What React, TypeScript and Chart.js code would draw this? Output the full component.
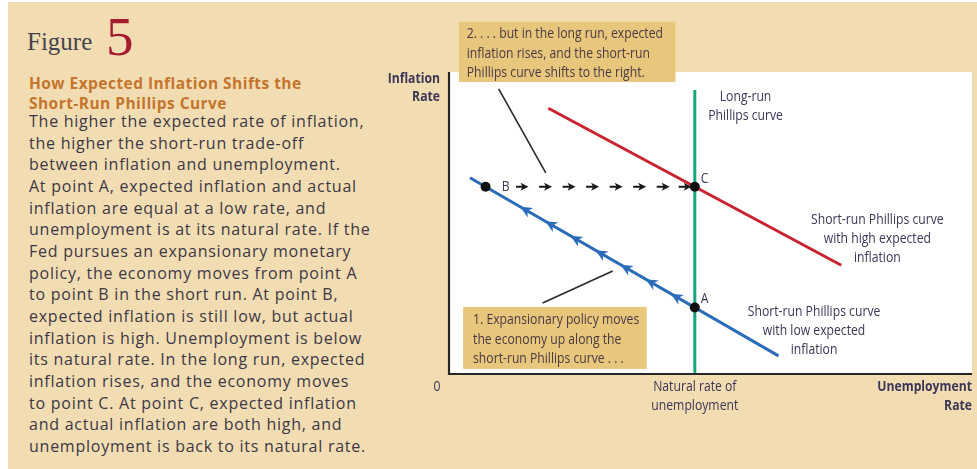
import React, { useEffect, useRef } from "react";
import { Chart, registerables } from "chart.js";

Chart.register(...registerables);

// Curves on a 0–100 unemployment / inflation grid
const lowCurveX = [4, 63];
const lowCurveY = [65, 6];
const highCurveX = [19, 75];
const highCurveY = [88, 36];
const naturalRate = 47;
const longRunY = [0, 94];

// Equilibrium points
const pointNames = ["A", "B", "C"];
const pointX = [47, 7, 47];
const pointY = [22, 62, 62];

// Arrowheads riding up the low-expectation curve (A -> B)
const upArrowX = [13.6, 18.4, 23.2, 28, 32.8, 37.6, 42.4];
// Arrow tips along the shift from B to C
const shiftStartX = 12.8;
const shiftArrowTipX = [15.2, 19.7, 24.2, 28.7, 33.2, 37.7, 42.2, 46.4];

const bodyLines = [
  "The higher the expected rate of inflation,",
  "the higher the short-run trade-off",
  "between inflation and unemployment.",
  "At point A, expected inflation and actual",
  "inflation are equal at a low rate, and",
  "unemployment is at its natural rate. If the",
  "Fed pursues an expansionary monetary",
  "policy, the economy moves from point A",
  "to point B in the short run. At point B,",
  "expected inflation is still low, but actual",
  "inflation is high. Unemployment is below",
  "its natural rate. In the long run, expected",
  "inflation rises, and the economy moves",
  "to point C. At point C, expected inflation",
  "and actual inflation are both high, and",
  "unemployment is back to its natural rate.",
];

const FONT = '"Open Sans", "Noto Sans", sans-serif';
const SQUEEZE = 0.84;
const LABEL = "#3b3656";
const BOX = "#e8c67c";

const BLUE = "#2b6cb9";
const RED = "#c9232f";
const GREEN = "#17a57c";

type Txt = { x: number; y: number; lines: string[]; align: CanvasTextAlign };

const curveLabels: Txt[] = [
  { x: 56.7, y: 91.7, lines: ["Long-run", "Phillips curve"], align: "center" },
  { x: 81.9, y: 51, lines: ["Short-run Phillips curve", "with high expected", "inflation"], align: "center" },
  { x: 69.8, y: 20.5, lines: ["Short-run Phillips curve", "with low expected", "inflation"], align: "center" },
];

const boxes = [
  {
    x0: 1.9, x1: 43.3, y0: 116.6, y1: 96.7, tx: 3.4, ty: 112.6,
    lines: ["2. . . . but in the long run, expected", "inflation rises, and the short-run", "Phillips curve shifts to the right."],
  },
  {
    x0: 2.7, x1: 37.8, y0: 22.2, y1: 1.7, tx: 4.6, ty: 17.9,
    lines: ["1. Expansionary policy moves", "the economy up along the", "short-run Phillips curve . . ."],
  },
];

// Leader lines from the callouts to the curves
const leaders = [
  { x0: 9.5, y0: 94.4, x1: 18.5, y1: 66.6 },
  { x0: 17.9, y0: 23.5, x1: 31.3, y1: 34.1 },
];

const pairs = (xs: number[], ys: number[]) => xs.map((x, i) => ({ x, y: ys[i] }));

// condensed-looking text: draw with a horizontal squeeze
function say(ctx: CanvasRenderingContext2D, s: string, x: number, y: number, align: CanvasTextAlign) {
  ctx.save();
  ctx.translate(x, y);
  ctx.scale(SQUEEZE, 1);
  ctx.textAlign = align;
  ctx.textBaseline = "middle";
  ctx.fillText(s, 0, 0);
  ctx.restore();
}

function arrowHead(ctx: CanvasRenderingContext2D, x: number, y: number, ang: number, len: number, half: number, notch: number) {
  ctx.save();
  ctx.translate(x, y);
  ctx.rotate(ang);
  ctx.beginPath();
  ctx.moveTo(0, 0);
  ctx.lineTo(-len, -half);
  ctx.lineTo(-len + notch, 0);
  ctx.lineTo(-len, half);
  ctx.closePath();
  ctx.fill();
  ctx.restore();
}

const decor = {
  id: "phillipsDecor",
  beforeDraw(chart: any) {
    const { ctx, chartArea: a } = chart;
    ctx.save();
    ctx.fillStyle = "#ffffff";
    ctx.fillRect(a.left, a.top, a.right - a.left, a.bottom - a.top);
    ctx.restore();
  },
  beforeDatasetsDraw(chart: any) {
    const { ctx } = chart;
    const px = (v: number) => chart.scales.x.getPixelForValue(v);
    const py = (v: number) => chart.scales.y.getPixelForValue(v);
    const yy = py(pointY[1]);
    ctx.save();
    ctx.strokeStyle = "#1a1a1a";
    ctx.fillStyle = "#1a1a1a";
    ctx.lineWidth = 2;
    shiftArrowTipX.forEach((t, i) => {
      const tip = px(t);
      const start = i === 0 ? px(shiftStartX) : tip - 13;
      ctx.beginPath();
      ctx.moveTo(start, yy);
      ctx.lineTo(tip - 4, yy);
      ctx.stroke();
      arrowHead(ctx, tip, yy, 0, 8, 4, 2);
    });
    ctx.restore();
  },
  afterDatasetsDraw(chart: any) {
    const { ctx, chartArea: a } = chart;
    const px = (v: number) => chart.scales.x.getPixelForValue(v);
    const py = (v: number) => chart.scales.y.getPixelForValue(v);

    // arrowheads on the low curve, pointing toward B
    const ax0 = px(lowCurveX[1]), ay0 = py(lowCurveY[1]);
    const ax1 = px(lowCurveX[0]), ay1 = py(lowCurveY[0]);
    const ang = Math.atan2(ay1 - ay0, ax1 - ax0);
    ctx.save();
    ctx.fillStyle = BLUE;
    upArrowX.forEach((v) => {
      const t = (v - lowCurveX[0]) / (lowCurveX[1] - lowCurveX[0]);
      const yv = lowCurveY[0] + t * (lowCurveY[1] - lowCurveY[0]);
      arrowHead(ctx, px(v), py(yv), ang, 12, 5.5, 3.5);
    });
    ctx.restore();

    // leader lines
    ctx.save();
    ctx.strokeStyle = "#2a2a2a";
    ctx.lineWidth = 1.6;
    leaders.forEach((l) => {
      ctx.beginPath();
      ctx.moveTo(px(l.x0), py(l.y0));
      ctx.lineTo(px(l.x1), py(l.y1));
      ctx.stroke();
    });
    ctx.restore();

    // axes
    ctx.save();
    ctx.strokeStyle = "#262626";
    ctx.lineWidth = 2.2;
    ctx.beginPath();
    ctx.moveTo(a.left, a.top);
    ctx.lineTo(a.left, a.bottom);
    ctx.lineTo(a.right, a.bottom);
    ctx.stroke();
    ctx.restore();

    // callout boxes
    ctx.save();
    boxes.forEach((b) => {
      ctx.fillStyle = BOX;
      const x0 = px(b.x0), x1 = px(b.x1), y0 = py(b.y0), y1 = py(b.y1);
      ctx.fillRect(x0, y0, x1 - x0, y1 - y0);
      ctx.fillStyle = "#4a3a44";
      ctx.font = `14.5px ${FONT}`;
      b.lines.forEach((s, i) => say(ctx, s, px(b.tx), py(b.ty) + i * 19.5, "left"));
    });
    ctx.restore();

    // text labels
    ctx.save();
    ctx.fillStyle = LABEL;
    ctx.font = `14.5px ${FONT}`;
    curveLabels.forEach((l) => {
      l.lines.forEach((s, i) => say(ctx, s, px(l.x), py(l.y) + i * 19, l.align));
    });
    say(ctx, "C", px(pointX[2]) + 6, py(pointY[2]) - 8, "left");
    say(ctx, "A", px(pointX[0]) + 6, py(pointY[0]) - 9, "left");
    say(ctx, "B", px(pointX[1]) + 20, py(pointY[1]), "center");
    say(ctx, "Natural rate of", px(naturalRate), a.bottom + 13, "center");
    say(ctx, "unemployment", px(naturalRate), a.bottom + 32, "center");
    say(ctx, "0", a.left - 12, a.bottom + 13, "center");

    ctx.font = `bold 14.5px ${FONT}`;
    say(ctx, "Inflation", a.left - 9, a.top + 7, "right");
    say(ctx, "Rate", a.left - 9, a.top + 25, "right");
    say(ctx, "Unemployment", a.right, a.bottom + 13, "right");
    say(ctx, "Rate", a.right, a.bottom + 32, "right");
    ctx.restore();
  },
};

function PhillipsChart() {
  const ref = useRef<HTMLCanvasElement | null>(null);
  useEffect(() => {
    if (!ref.current) return;
    const chart = new Chart(ref.current, {
      type: "scatter",
      data: {
        datasets: [
          {
            label: pointNames.join(""),
            data: pairs(pointX, pointY),
            showLine: false,
            pointRadius: 5,
            pointBackgroundColor: "#111111",
            pointBorderColor: "#111111",
            pointBorderWidth: 0,
          },
          {
            label: "Long-run Phillips curve",
            data: pairs([naturalRate, naturalRate], longRunY),
            showLine: true,
            borderColor: GREEN,
            borderWidth: 3,
            pointRadius: 0,
          },
          {
            label: "Short-run, low expected inflation",
            data: pairs(lowCurveX, lowCurveY),
            showLine: true,
            borderColor: BLUE,
            borderWidth: 3,
            pointRadius: 0,
          },
          {
            label: "Short-run, high expected inflation",
            data: pairs(highCurveX, highCurveY),
            showLine: true,
            borderColor: RED,
            borderWidth: 3,
            pointRadius: 0,
          },
        ],
      },
      options: {
        responsive: false,
        animation: false,
        devicePixelRatio: 1,
        events: [],
        layout: { padding: { left: 69, right: 4, top: 72, bottom: 95 } },
        scales: {
          x: { type: "linear", min: 0, max: 100, display: false },
          y: { type: "linear", min: 0, max: 100, display: false },
        },
        plugins: { legend: { display: false }, tooltip: { enabled: false } },
      },
      plugins: [decor],
    });
    return () => chart.destroy();
  }, []);
  return <canvas ref={ref} width={597} height={469} style={{ position: "absolute", left: 380, top: 0 }} />;
}

export default function App() {
  const sans = '"Open Sans", "Noto Sans", sans-serif';
  return (
    <div style={{ position: "absolute", left: 0, top: 0, width: 977, height: 469, background: "#ffffff", overflow: "hidden" }}>
      <div style={{ position: "absolute", left: 8, top: 2, width: 969, height: 467, background: "#f2ddb2" }} />
      <div style={{ position: "absolute", left: 27, top: 29, font: '25px/25px "Liberation Serif", serif', color: "#45434f", whiteSpace: "nowrap" }}>
        Figure
      </div>
      <div style={{ position: "absolute", left: 106, top: 9, font: '55px/55px "Liberation Serif", serif', color: "#a51c30" }}>5</div>
      <div style={{ position: "absolute", left: 29, top: 73, font: `bold 15.5px/20px ${sans}`, letterSpacing: "0.45px", color: "#c4742c", whiteSpace: "nowrap" }}>
        How Expected Inflation Shifts the
        <br />
        Short-Run Phillips Curve
      </div>
      <div style={{ position: "absolute", left: 29, top: 111, font: `16px/21.67px ${sans}`, letterSpacing: "0.75px", color: "#3d3747", whiteSpace: "nowrap" }}>
        {bodyLines.map((s, i) => (
          <div key={i}>{s}</div>
        ))}
      </div>
      <PhillipsChart />
    </div>
  );
}
